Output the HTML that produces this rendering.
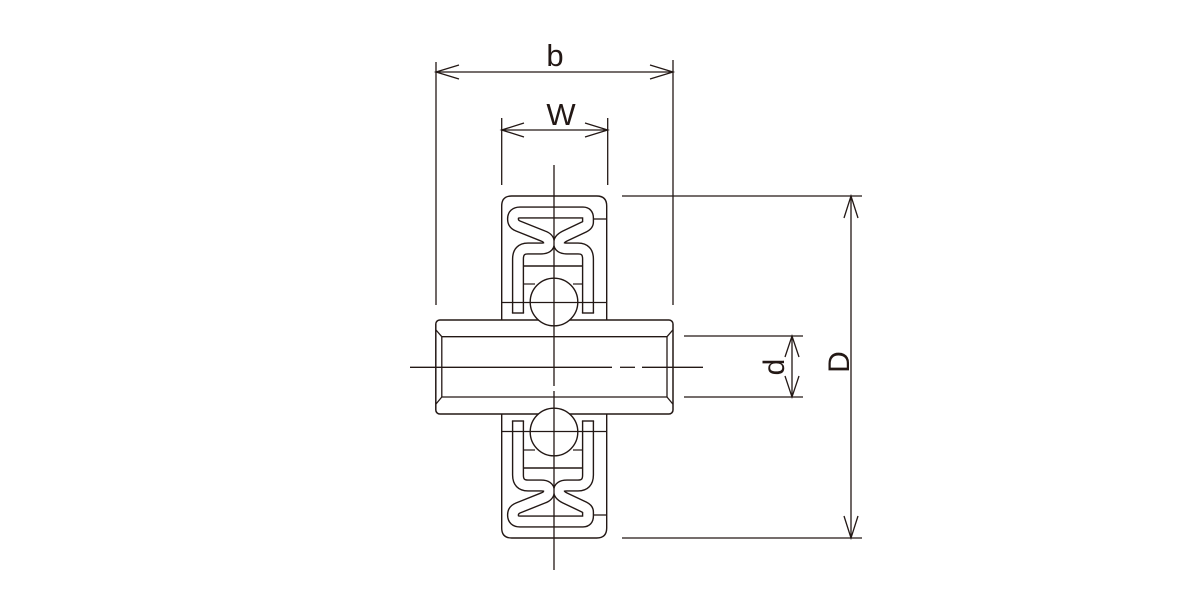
<!DOCTYPE html>
<html><head><meta charset="utf-8"><style>
html,body{margin:0;padding:0;background:#fff;}
svg{display:block;}
text{font-family:"Liberation Sans",sans-serif;fill:#231815;}
</style></head><body>
<svg width="1200" height="600" viewBox="0 0 1200 600" xmlns="http://www.w3.org/2000/svg">
<defs>
<path id="bp" d="M518,313 L518,259 Q518,248.5 528,248.5 L541,248.5 Q549,248.5 549,243 Q549,238 543,236 L518,226 Q513,224 513,219 Q513,212.5 520,212.5 L583,212.5 Q588,212.5 588,218 L588,222 Q588,225 584,227 L565,236 Q559,239 559,243 Q559,248.5 567,248.5 L578,248.5 Q588,248.5 588,259 L588,313"/>
<g id="tire">
  <path d="M501.7,320 L501.7,206 Q501.7,196 511.7,196 L596.7,196 Q606.7,196 606.7,206 L606.7,320" fill="none" stroke="#231815" stroke-width="1.4"/>
  <use href="#bp" fill="none" stroke="#231815" stroke-width="12.2"/>
  <use href="#bp" fill="none" stroke="#fff" stroke-width="9.4"/>
  <line x1="511.9" y1="313" x2="524.1" y2="313" stroke="#231815" stroke-width="1.4"/>
  <line x1="581.9" y1="313" x2="594.1" y2="313" stroke="#231815" stroke-width="1.4"/>
  <line x1="524" y1="266" x2="582" y2="266" stroke="#231815" stroke-width="1.4"/>
  <line x1="524" y1="284" x2="535" y2="284" stroke="#231815" stroke-width="1.2"/>
  <line x1="573" y1="284" x2="582" y2="284" stroke="#231815" stroke-width="1.2"/>
  <line x1="594" y1="219" x2="606.7" y2="219" stroke="#231815" stroke-width="1.3"/>
  <line x1="501.7" y1="302.5" x2="606.7" y2="302.5" stroke="#231815" stroke-width="1.3"/>
  <circle cx="554" cy="302" r="23.8" fill="#fff" stroke="#231815" stroke-width="1.4"/>
  <line x1="530" y1="302.5" x2="578" y2="302.5" stroke="#231815" stroke-width="1.2"/>
</g>
</defs>
<g stroke="#231815" fill="none" stroke-width="1.3">
  <rect x="435.8" y="320" width="237.2" height="94" rx="4" ry="4" stroke-width="1.5"/>
  <line x1="441.8" y1="336.7" x2="441.8" y2="397"/>
  <line x1="667" y1="336.7" x2="667" y2="397"/>
  <line x1="441.8" y1="336.7" x2="667" y2="336.7"/>
  <line x1="441.8" y1="397" x2="667" y2="397"/>
  <line x1="436" y1="330" x2="441.8" y2="336.7"/>
  <line x1="436" y1="404" x2="441.8" y2="397"/>
  <line x1="672.8" y1="330" x2="667" y2="336.7"/>
  <line x1="672.8" y1="404" x2="667" y2="397"/>
</g>
<use href="#tire"/>
<use href="#tire" transform="translate(0,734) scale(1,-1)"/>
<g stroke="#231815" fill="none" stroke-width="1.3">
  <line x1="554" y1="165" x2="554" y2="386"/>
  <line x1="554" y1="391" x2="554" y2="570"/>
  <line x1="410" y1="367.3" x2="612" y2="367.3"/>
  <line x1="620" y1="367.3" x2="635" y2="367.3"/>
  <line x1="642" y1="367.3" x2="703" y2="367.3"/>
  <line x1="436" y1="62" x2="436" y2="305"/>
  <line x1="673" y1="60" x2="673" y2="305"/>
  <line x1="436" y1="72" x2="673" y2="72"/>
  <polyline points="459,65 436,72 459,79"/>
  <polyline points="650,65 673,72 650,79"/>
  <line x1="501.7" y1="118" x2="501.7" y2="185"/>
  <line x1="607.7" y1="118" x2="607.7" y2="185"/>
  <line x1="501.7" y1="130" x2="607.7" y2="130"/>
  <polyline points="524,123 501.7,130 524,137"/>
  <polyline points="585,123 607.7,130 585,137"/>
  <line x1="684" y1="336" x2="803" y2="336"/>
  <line x1="684" y1="397" x2="803" y2="397"/>
  <line x1="792" y1="336" x2="792" y2="397"/>
  <polyline points="785,357 792,336 799,357"/>
  <polyline points="785,376 792,397 799,376"/>
  <line x1="622" y1="196" x2="862" y2="196"/>
  <line x1="622" y1="538" x2="862" y2="538"/>
  <line x1="851" y1="196" x2="851" y2="538"/>
  <polyline points="844,218 851,196 858,218"/>
  <polyline points="844,516 851,538 858,516"/>
</g>
<text x="555" y="66" font-size="31" text-anchor="middle">b</text>
<text x="561" y="125" font-size="31" text-anchor="middle">W</text>
<text transform="translate(784,367) rotate(-90)" font-size="30" text-anchor="middle">d</text>
<text transform="translate(849,362) rotate(-90)" font-size="30" text-anchor="middle">D</text>
</svg>
</body></html>
